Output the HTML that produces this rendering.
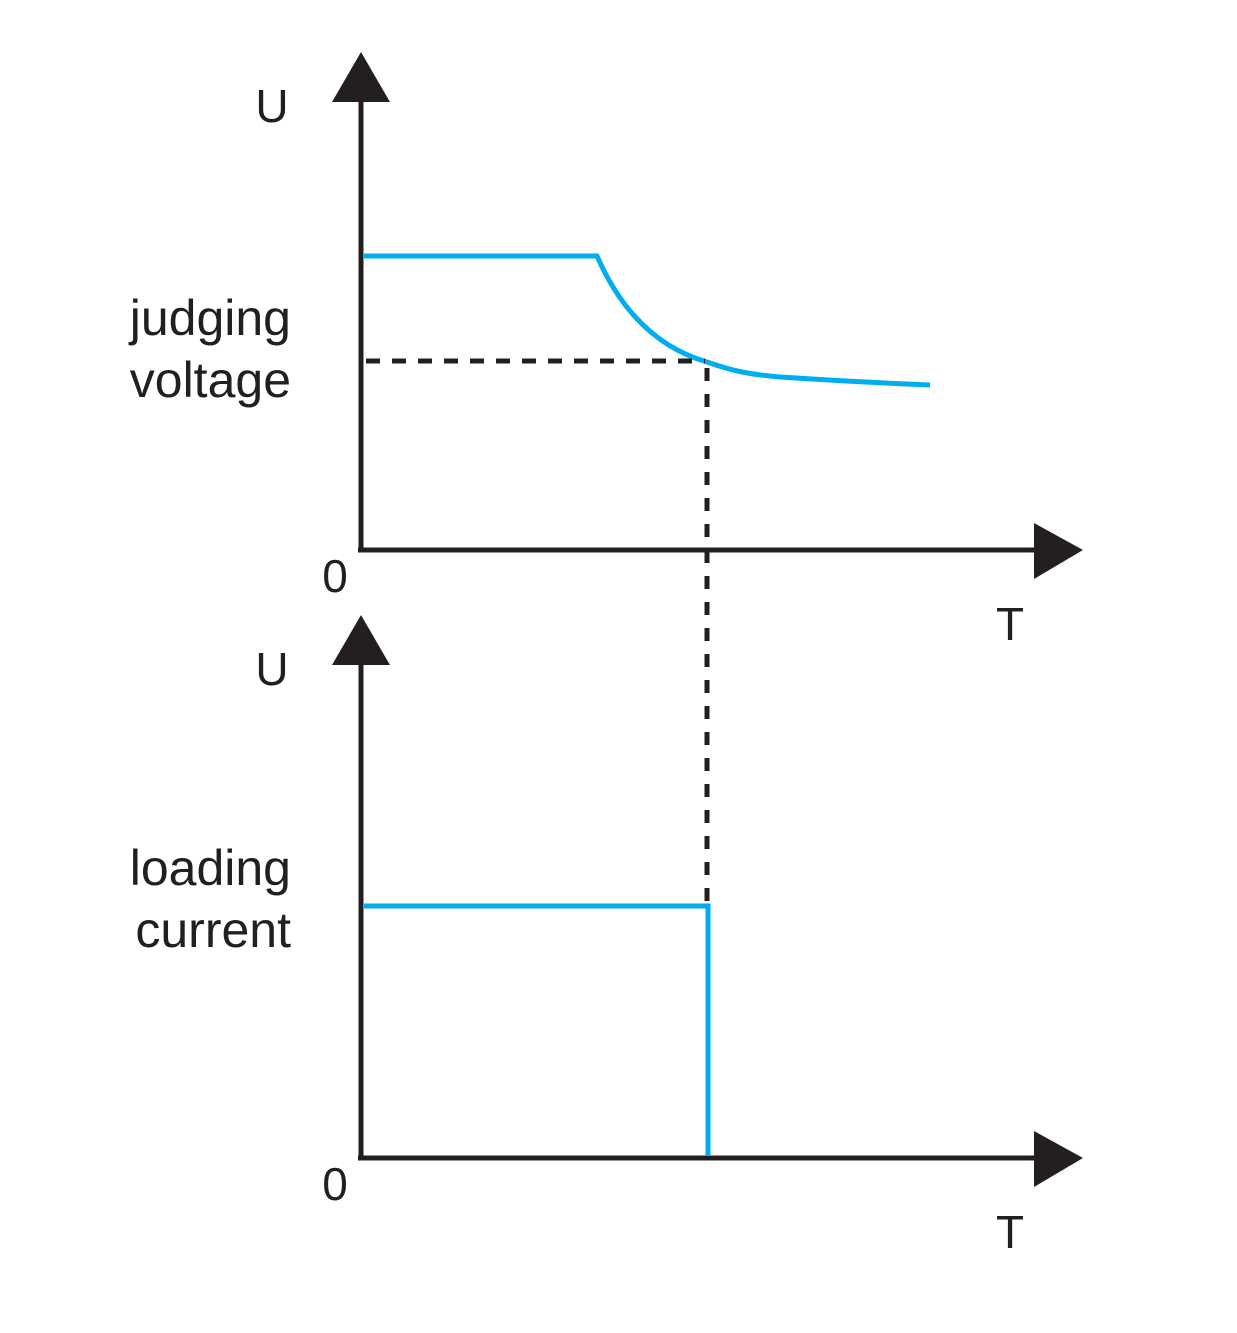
<!DOCTYPE html>
<html><head><meta charset="utf-8"><style>
html,body{margin:0;padding:0;background:#fff;}
svg{display:block;}
text{font-family:"Liberation Sans",sans-serif;fill:#231f20;}
</style></head><body>
<svg width="1237" height="1333" viewBox="0 0 1237 1333" xmlns="http://www.w3.org/2000/svg">
<!-- top chart -->
<line x1="361" y1="95" x2="361" y2="552" stroke="#231f20" stroke-width="5"/>
<polygon points="361,52 332,102 390,102" fill="#231f20"/>
<line x1="358" y1="550" x2="1040" y2="550" stroke="#231f20" stroke-width="5"/>
<polygon points="1083,550 1034,523 1034,579" fill="#231f20"/>
<path d="M364,256 L597,256 C625,320 665,350 707,362 C730,370 745,374 780,377 C840,381 880,383 930,385" fill="none" stroke="#00aeef" stroke-width="5"/>
<line x1="357" y1="361" x2="705" y2="361" stroke="#231f20" stroke-width="5" stroke-dasharray="14,12" stroke-dashoffset="-9"/>
<line x1="707" y1="368" x2="707" y2="905" stroke="#231f20" stroke-width="5" stroke-dasharray="13,13"/>
<text x="272" y="122" font-size="46" text-anchor="middle">U</text>
<text x="291" y="335" font-size="50" text-anchor="end">judging</text>
<text x="291" y="397" font-size="50" text-anchor="end">voltage</text>
<text x="335" y="592" font-size="46" text-anchor="middle">0</text>
<text x="1010" y="640" font-size="46" text-anchor="middle">T</text>
<!-- bottom chart -->
<line x1="361" y1="655" x2="361" y2="1160" stroke="#231f20" stroke-width="5"/>
<polygon points="361,615 332,665 390,665" fill="#231f20"/>
<line x1="358" y1="1158" x2="1040" y2="1158" stroke="#231f20" stroke-width="5"/>
<polygon points="1083,1158 1034,1131 1034,1187" fill="#231f20"/>
<path d="M364,906 L708,906 L708,1156" fill="none" stroke="#00aeef" stroke-width="5"/>
<text x="272" y="685" font-size="46" text-anchor="middle">U</text>
<text x="291" y="885" font-size="50" text-anchor="end">loading</text>
<text x="291" y="947" font-size="50" text-anchor="end">current</text>
<text x="335" y="1200" font-size="46" text-anchor="middle">0</text>
<text x="1010" y="1248" font-size="46" text-anchor="middle">T</text>
</svg>
</body></html>
